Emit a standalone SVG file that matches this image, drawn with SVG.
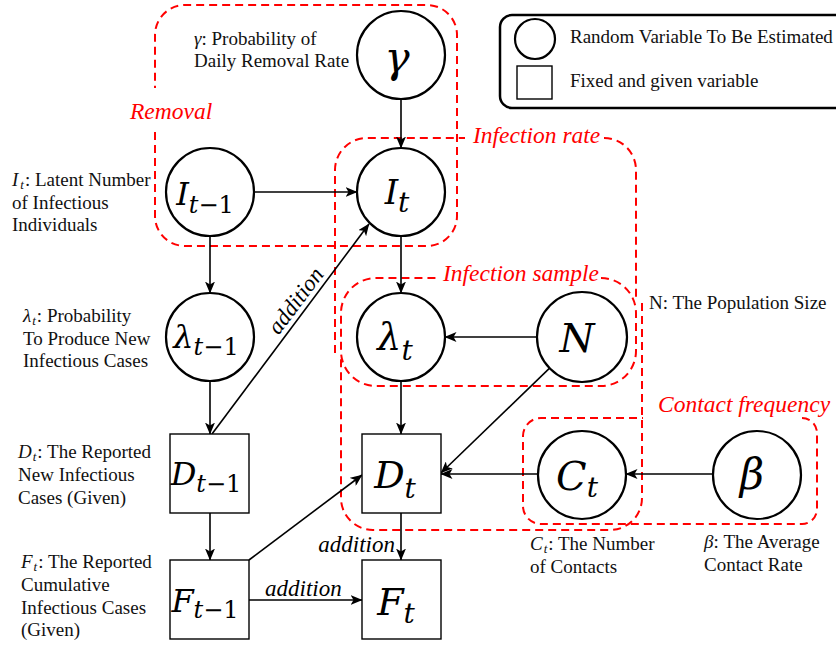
<svg xmlns="http://www.w3.org/2000/svg" width="836" height="646" viewBox="0 0 836 646">
<defs>
<marker id="arr" viewBox="0 0 12 10" refX="11.5" refY="5" markerWidth="12" markerHeight="10" markerUnits="userSpaceOnUse" orient="auto">
<path d="M0,0 L12,5 L0,10 L3,5 z" fill="#000"/>
</marker>
<style>
.circ{fill:#fff;stroke:#000;stroke-width:2.2}
.sq{fill:#fff;stroke:#000;stroke-width:1.4}
.m{font-family:"DejaVu Serif",serif;font-style:italic;fill:#000}
.up{font-style:normal}
.ann{font-family:"Liberation Serif",serif;font-size:19px;fill:#111}
.it{font-style:italic}
.grp{fill:none;stroke:#f00;stroke-width:2;stroke-dasharray:8 5}
.gl{font-family:"Liberation Serif",serif;font-style:italic;font-size:23.5px;fill:#f00}
.edge{stroke:#000;stroke-width:1.6;fill:none;marker-end:url(#arr)}
.add{font-family:"Liberation Serif",serif;font-style:italic;font-size:23px;fill:#000}
</style>
</defs>
<rect width="836" height="646" fill="#fff"/>

<!-- legend -->
<g id="legend">
<rect x="500" y="15" width="350" height="93" rx="12" fill="none" stroke="#000" stroke-width="2.5"/>
<circle cx="535" cy="39" r="20" fill="#fff" stroke="#000" stroke-width="2.2"/>
<rect x="517" y="66" width="35" height="33" fill="#fff" stroke="#000" stroke-width="1.4"/>
<text class="ann" x="570" y="43">Random Variable To Be Estimated</text>
<text class="ann" x="570" y="87">Fixed and given variable</text>
</g>

<!-- groups -->
<g id="groups">
<path class="grp" d="M155,132 L155,216 A30,30 0 0 0 185,246 L427,246 A30,30 0 0 0 457,216 L457,35 A30,30 0 0 0 427,5 L185,5 A30,30 0 0 0 155,35 L155,88"/>
<text class="gl" x="130" y="119">Removal</text>
<path class="grp" d="M604,138 A32,32 0 0 1 636,170 L636,300 M642,303 L642,498 A32,32 0 0 1 610,530 L373,530 A32,32 0 0 1 341,498 L341,356 M335,353 L335,170 A32,32 0 0 1 367,138 L465,138"/>
<text class="gl" x="473" y="143">Infection rate</text>
<path class="grp" d="M601,278 A35,35 0 0 1 636,313 L636,351 A35,35 0 0 1 601,386 L376,386 A35,35 0 0 1 341,351 L341,313 A35,35 0 0 1 376,278 L437,278"/>
<text class="gl" x="443" y="281">Infection sample</text>
<path class="grp" d="M802,418 A15,15 0 0 1 817,433 L817,509 A15,15 0 0 1 802,524 L541,524 A18,18 0 0 1 523,506 L523,436 A18,18 0 0 1 541,418 L643,418"/>
<text class="gl" x="658" y="412">Contact frequency</text>
</g>

<!-- connectors -->
<g id="connectors">
<line class="edge" x1="401" y1="99" x2="401" y2="148"/>
<line class="edge" x1="254" y1="192" x2="357" y2="192"/>
<line class="edge" x1="210" y1="236" x2="210" y2="293"/>
<line class="edge" x1="401" y1="236" x2="401" y2="293"/>
<line class="edge" x1="210" y1="381" x2="210" y2="434"/>
<line class="edge" x1="401" y1="381" x2="401" y2="434"/>
<line class="edge" x1="537" y1="337" x2="445" y2="337"/>
<line class="edge" x1="549.6" y1="368.2" x2="441" y2="473"/>
<line class="edge" x1="538" y1="474" x2="441" y2="474"/>
<line class="edge" x1="713" y1="474" x2="626" y2="474"/>
<line class="edge" x1="212" y1="434" x2="369" y2="224"/>
<line class="edge" x1="210" y1="513" x2="210" y2="560"/>
<line class="edge" x1="401" y1="513" x2="401" y2="560"/>
<line class="edge" x1="249" y1="560" x2="362" y2="475"/>
<line class="edge" x1="249" y1="600" x2="362" y2="600"/>
<text class="add" transform="translate(301.6,305.2) rotate(-53)" text-anchor="middle">addition</text>
<text class="add" x="395" y="552" text-anchor="end">addition</text>
<text class="add" x="265" y="596">addition</text>
</g>

<!-- nodes -->
<g id="gamma">
<circle class="circ" cx="401" cy="55" r="44"/>
<text class="m" x="397" y="72" font-size="42" text-anchor="middle">γ</text>
</g>
<g id="I_prev">
<circle class="circ" cx="210" cy="192" r="44"/>
<text class="m" x="205" y="205" font-size="32" text-anchor="middle">I<tspan font-size="24" dy="8">t<tspan class="up">−1</tspan></tspan></text>
</g>
<g id="I_t">
<circle class="circ" cx="401" cy="192" r="44"/>
<text class="m" x="397" y="204" font-size="34" text-anchor="middle">I<tspan font-size="28" dy="8">t</tspan></text>
</g>
<g id="lambda_prev">
<circle class="circ" cx="210" cy="337" r="44"/>
<text class="m" x="206" y="348" font-size="32" text-anchor="middle">λ<tspan font-size="24" dy="7">t<tspan class="up">−1</tspan></tspan></text>
</g>
<g id="lambda_t">
<circle class="circ" cx="401" cy="337" r="44"/>
<text class="m" x="395" y="350" font-size="38" text-anchor="middle">λ<tspan font-size="28" dy="10">t</tspan></text>
</g>
<g id="N">
<circle class="circ" cx="582" cy="337" r="45"/>
<text class="m" x="577" y="352" font-size="40" text-anchor="middle">N</text>
</g>
<g id="D_prev">
<rect class="sq" x="170" y="434" width="79" height="79"/>
<text class="m" x="206" y="485" font-size="32" text-anchor="middle">D<tspan font-size="24" dy="7">t<tspan class="up">−1</tspan></tspan></text>
</g>
<g id="D_t">
<rect class="sq" x="362" y="434" width="79" height="79"/>
<text class="m" x="395" y="488" font-size="38" text-anchor="middle">D<tspan font-size="28" dy="10">t</tspan></text>
</g>
<g id="C_t">
<circle class="circ" cx="582" cy="475" r="44"/>
<text class="m" x="577" y="490" font-size="40" text-anchor="middle">C<tspan font-size="28" dy="7">t</tspan></text>
</g>
<g id="beta">
<circle class="circ" cx="757" cy="475" r="44"/>
<text class="m" x="752" y="489" font-size="42" text-anchor="middle">β</text>
</g>
<g id="F_prev">
<rect class="sq" x="170" y="560" width="79" height="79"/>
<text class="m" x="205" y="612" font-size="32" text-anchor="middle">F<tspan font-size="24" dy="6">t<tspan class="up">−1</tspan></tspan></text>
</g>
<g id="F_t">
<rect class="sq" x="362" y="560" width="79" height="79"/>
<text class="m" x="396" y="615" font-size="38" text-anchor="middle">F<tspan font-size="28" dy="8">t</tspan></text>
</g>

<!-- annotations -->
<g id="annotations">
<text class="ann" x="194" y="45"><tspan class="it">γ</tspan>: Probability of</text>
<text class="ann" x="194" y="67">Daily Removal Rate</text>
<text class="ann" x="12" y="186"><tspan class="it">I</tspan><tspan class="it" font-size="13" dx="2" dy="3">t</tspan><tspan dx="1" dy="-3">: Latent Number</tspan></text>
<text class="ann" x="12" y="209">of Infectious</text>
<text class="ann" x="12" y="231">Individuals</text>
<text class="ann" x="23" y="322"><tspan class="it">λ</tspan><tspan class="it" font-size="13" dx="1" dy="3">t</tspan><tspan dx="1" dy="-3">: Probability</tspan></text>
<text class="ann" x="23" y="345">To Produce New</text>
<text class="ann" x="23" y="367">Infectious Cases</text>
<text class="ann" x="18" y="458"><tspan class="it">D</tspan><tspan class="it" font-size="13" dx="1" dy="3">t</tspan><tspan dx="1" dy="-3">: The Reported</tspan></text>
<text class="ann" x="18" y="481">New Infectious</text>
<text class="ann" x="18" y="504">Cases (Given)</text>
<text class="ann" x="21" y="568"><tspan class="it">F</tspan><tspan class="it" font-size="13" dx="1" dy="3">t</tspan><tspan dx="1" dy="-3">: The Reported</tspan></text>
<text class="ann" x="21" y="591">Cumulative</text>
<text class="ann" x="21" y="614">Infectious Cases</text>
<text class="ann" x="21" y="636">(Given)</text>
<text class="ann" x="649" y="309">N: The Population Size</text>
<text class="ann" x="530" y="550"><tspan class="it">C</tspan><tspan class="it" font-size="13" dx="1" dy="3">t</tspan><tspan dx="1" dy="-3">: The Number</tspan></text>
<text class="ann" x="530" y="573">of Contacts</text>
<text class="ann" x="704" y="548"><tspan class="it">β</tspan>: The Average</text>
<text class="ann" x="704" y="571">Contact Rate</text>
</g>
</svg>
